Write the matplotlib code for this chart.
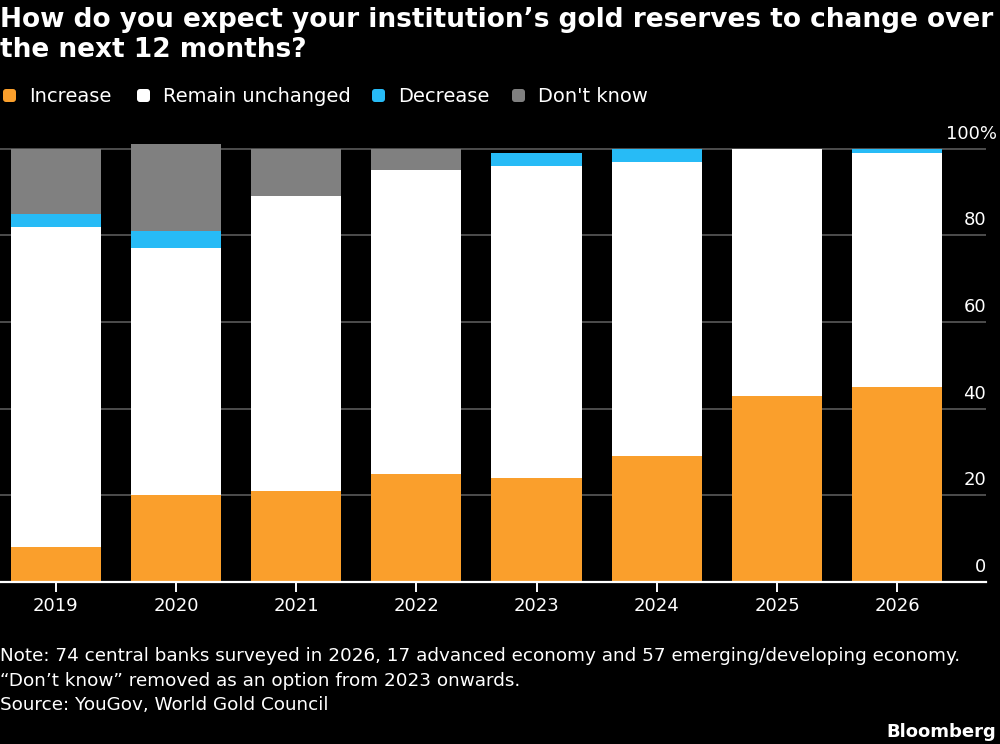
import matplotlib
matplotlib.use('Agg')
import matplotlib.pyplot as plt
import matplotlib.transforms as mtransforms
from matplotlib.patches import FancyBboxPatch
import numpy as np

plt.rcParams['font.family'] = ['DejaVu Sans']

# ---------------- data ----------------
years = ['2019', '2020', '2021', '2022', '2023', '2024', '2025', '2026']
increase = [8, 20, 21, 25, 24, 29, 43, 45]
remain_unchanged = [74, 57, 68, 70, 72, 68, 57, 54]
decrease = [3, 4, 0, 0, 3, 3, 0, 1]
dont_know = [15, 20, 11, 5, 0, 0, 0, 0]
series_names = ['Increase', 'Remain unchanged', 'Decrease', "Don't know"]
y_ticks = [0, 20, 40, 60, 80, 100]

title = ("How do you expect your institution\u2019s gold reserves to change over\n"
         "the next 12 months?")
note_lines = [
    "Note: 74 central banks surveyed in 2026, 17 advanced economy and 57 emerging/developing economy.",
    "\u201cDon\u2019t know\u201d removed as an option from 2023 onwards.",
    "Source: YouGov, World Gold Council",
]

# ---------------- style ----------------
colors = ['#FA9F2C', '#FFFFFF', '#27BBF6', '#808080']
W, H = 1000, 744
fig = plt.figure(figsize=(W / 100, H / 100), dpi=100, facecolor='black')

ax = fig.add_axes([0, 1 - 582 / H, 986 / W, (582 - 140) / H])
ax.set_facecolor('black')

x = np.arange(len(years))
bottom = np.zeros(len(years))
for vals, color in zip([increase, remain_unchanged, decrease, dont_know], colors):
    vals = np.array(vals, dtype=float)
    ax.bar(x, vals, width=0.75, bottom=bottom, color=color, linewidth=0, zorder=2)
    bottom += vals

ax.set_xlim(-0.463, 7.738)
ax.set_ylim(0, 102)
ax.set_yticks(y_ticks)
ax.yaxis.grid(True, color='#5a5a5a', linewidth=1.2)
ax.set_axisbelow(True)
ax.tick_params(axis='y', length=0, labelleft=False, labelright=False)
for s in ['top', 'right', 'left']:
    ax.spines[s].set_visible(False)
ax.spines['bottom'].set_color('white')
ax.spines['bottom'].set_linewidth(1.6)
ax.spines['bottom'].set_zorder(5)
ax.set_xticks(x, years)
ax.tick_params(axis='x', colors='white', length=7, width=1.4, pad=4, labelsize=13,
               labelcolor='white')

# y labels: right-aligned at axes edge, sitting above gridlines
trans = mtransforms.blended_transform_factory(ax.transAxes, ax.transData) + \
    mtransforms.ScaledTranslation(0, 10 / 100, fig.dpi_scale_trans)
for v in y_ticks:
    if v == y_ticks[-1]:
        t2 = trans + mtransforms.ScaledTranslation(11 / 100, 0, fig.dpi_scale_trans)
        ax.text(1.0, v, f'{v}%', transform=t2, ha='right', va='baseline',
                color='white', fontsize=13, clip_on=False)
    else:
        ax.text(1.0, v, f'{v}', transform=trans, ha='right', va='baseline',
                color='white', fontsize=13, clip_on=False)

# overlay in pixel coordinates for title / legend / notes
ov = fig.add_axes([0, 0, 1, 1], facecolor='none')
ov.set_xlim(0, W)
ov.set_ylim(H, 0)
ov.axis('off')

lines = title.split('\n')
ov.text(0, 27, lines[0], color='white', fontsize=19, fontweight='bold', va='baseline', ha='left')
ov.text(0, 57, lines[1], color='white', fontsize=19, fontweight='bold', va='baseline', ha='left')

legend_text_x = [29, 163, 398, 538]
for name, color, tx in zip(series_names, colors, legend_text_x):
    ov.add_patch(FancyBboxPatch((tx - 26, 89), 13, 13,
                                boxstyle='round,pad=0,rounding_size=3',
                                facecolor=color, edgecolor='none'))
    ov.text(tx, 102.5, name, color='white', fontsize=14, va='baseline', ha='left')

for i, line in enumerate(note_lines):
    ov.text(0, 661 + 24.5 * i, line, color='white', fontsize=13.2, va='baseline', ha='left')

ov.text(996, 737, 'Bloomberg', color='white', fontsize=13, fontweight='bold',
        va='baseline', ha='right')

fig.savefig('out.png', dpi=100, facecolor='black')
